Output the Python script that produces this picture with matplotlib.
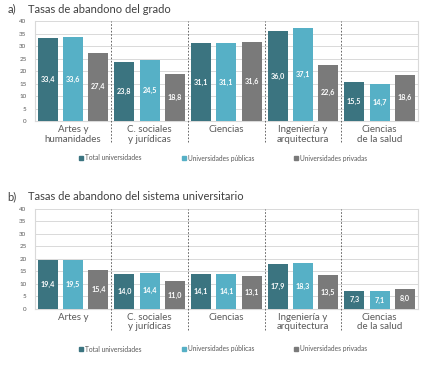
import numpy as np
import matplotlib
matplotlib.use("Agg")
import matplotlib.pyplot as plt
from matplotlib.patches import Patch

plt.rcParams['font.family'] = ['Lato', 'DejaVu Sans']

cats_a = ["Artes y\nhumanidades", "C. sociales\ny jurídicas", "Ciencias",
          "Ingeniería y\narquitectura", "Ciencias\nde la salud"]
cats_b = ["Artes y", "C. sociales\ny jurídicas", "Ciencias",
          "Ingeniería y\narquitectura", "Ciencias\nde la salud"]
series = ["Total universidades", "Universidades públicas", "Universidades privadas"]

grado_total = [33.4, 23.8, 31.1, 36.0, 15.5]
grado_publicas = [33.6, 24.5, 31.1, 37.1, 14.7]
grado_privadas = [27.4, 18.8, 31.6, 22.6, 18.6]

sistema_total = [19.4, 14.0, 14.1, 17.9, 7.3]
sistema_publicas = [19.5, 14.4, 14.1, 18.3, 7.1]
sistema_privadas = [15.4, 11.0, 13.1, 13.5, 8.0]

colors = ["#3b7480", "#56b0c6", "#7a7a7a"]
grid_c = "#d9d9d9"
text_c = "#595959"

fig = plt.figure(figsize=(4.46, 3.66), dpi=100)


def panel(bottom, letter, title, cats, data, leg_y):
    ax = fig.add_axes([0.078, bottom, 0.859, 0.273])
    x = np.arange(len(cats))
    w = 0.26
    offs = [-0.33, 0.0, 0.33]
    for vals, off, c in zip(data, offs, colors):
        bars = ax.bar(x + off, vals, width=w, color=c, zorder=3)
        for b, v in zip(bars, vals):
            ax.text(b.get_x() + b.get_width() / 2, v / 2, f"{v:.1f}".replace(".", ","),
                    ha="center", va="center", color="white", fontsize=5.2,
                    fontweight="bold", zorder=4)
    ax.set_xlim(-0.5, len(cats) - 0.5)
    ax.set_ylim(0, 40)
    ax.set_yticks(range(0, 41, 5))
    ax.yaxis.grid(True, color=grid_c, linewidth=0.7, zorder=0)
    ax.tick_params(axis="y", length=0, labelsize=4.5, labelcolor=text_c, pad=6)
    ax.set_xticks([])
    ax.spines["top"].set_visible(False)
    for s in ["right", "left", "bottom"]:
        ax.spines[s].set_color(grid_c)
    for i in range(1, len(cats)):
        ax.axvline(i - 0.5, ymin=-0.21, ymax=1, color="#505050", linestyle=(0, (2, 2)),
                   linewidth=0.6, clip_on=False, zorder=5)
    for i, c in enumerate(cats):
        ax.text(i, -1.5, c, ha="center", va="top", fontsize=7, color=text_c,
                linespacing=1.1)
    ty = bottom + 0.273 + 0.033
    fig.text(0.016, ty, letter, fontsize=8, color="#404040", va="center")
    fig.text(0.063, ty, title, fontsize=8, color="#404040", va="center")
    handles = [Patch(color=c) for c in colors]
    fig.legend(handles, series, loc="center", bbox_to_anchor=(0.5, leg_y), ncol=3,
               frameon=False, fontsize=4.8, handlelength=0.6, handleheight=0.6,
               handletextpad=0.3, columnspacing=6, labelcolor=text_c)
    return ax


panel(0.669, "a)", "Tasas de abandono del grado", cats_a,
      [grado_total, grado_publicas, grado_privadas], 1 - 158 / 366)
panel(0.156, "b)", "Tasas de abandono del sistema universitario", cats_b,
      [sistema_total, sistema_publicas, sistema_privadas], 1 - 349 / 366)

fig.savefig("out.png", dpi=100)
